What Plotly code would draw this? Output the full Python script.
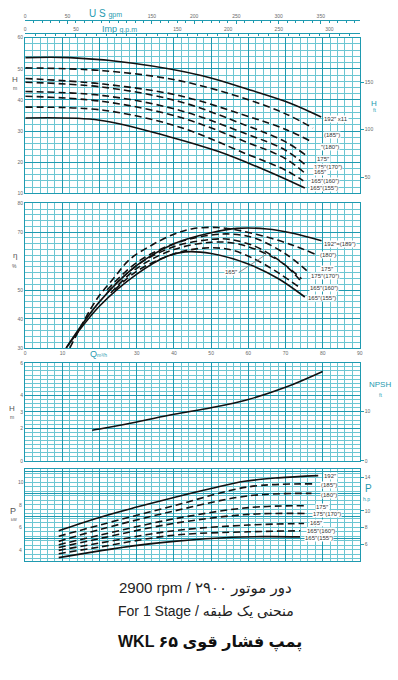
import plotly.graph_objects as go

W, H = 398, 680

# ---------------- data ----------------
# Panel 1: head H [m] vs Q [m3/h]
head_q = {
    "192": [0, 12, 29, 47.6, 61, 71.6, 79.6],
    "185": [0, 21, 41.4, 59.2, 69.9, 77.4],
    "180": [0, 21, 41.4, 59.2, 69.9, 77.0],
    "175": [0, 21, 41.4, 59.2, 69.9, 76.0],
    "175_170": [0, 21, 41.4, 59.2, 69.9, 75.6],
    "165": [0, 21, 41.4, 59.2, 69.9, 75.2],
    "165_160": [0, 21, 41.4, 59.2, 69.9, 74.8],
    "165_155": [0, 20, 38.7, 52, 65.4, 75.2],
}
head_h = {
    "192": [53.6, 53.6, 51.8, 47.8, 43.0, 38.8, 34.5],
    "185": [50.3, 49.4, 46.2, 40.4, 35.6, 31.0],
    "180": [46.9, 45.1, 41.4, 35.0, 30.6, 26.6],
    "175": [45.7, 44.1, 39.5, 31.9, 26.6, 21.8],
    "175_170": [42.7, 41.4, 36.7, 29.2, 23.9, 18.9],
    "165": [41.2, 39.5, 34.5, 26.6, 21.2, 16.5],
    "165_160": [37.7, 36.7, 31.3, 22.8, 17.5, 14.0],
    "165_155": [34.2, 33.5, 28.2, 23.4, 17.0, 11.7],
}
head_labels = {
    "192": "192\u2033 x11", "185": "(185\u2033)", "180": "\u2033(180\u2033)",
    "175": "175\u2033", "175_170": "175\u2033(170\u2033)", "165": "165\u2033",
    "165_160": "165\u2033(160\u2033)", "165_155": "165\u2033(155\u2033)",
}
head_label_pos = {  # (Q, H) of label left edge
    "192": (80.2, 34.0), "185": (80.2, 28.8), "180": (79.4, 25.0),
    "175": (78.3, 21.1), "175_170": (77.5, 18.3), "165": (77.5, 16.8),
    "165_160": (76.7, 13.8), "165_155": (76.2, 11.7),
}
solid_keys = {"192", "165_155"}

# Panel 2: efficiency [%]
eff_q = {
    "192": [11, 20, 30, 40, 50, 57, 65, 72, 79.7],
    "180": [12, 19, 24, 28, 34, 40, 45, 52, 57.5, 65, 72, 77.9],
    "175": [22, 30, 40, 50, 56, 62, 70, 75.7],
    "175_170": [22, 30, 40, 50, 55, 62, 68, 74.3],
    "165": [23, 30, 40, 50, 57, 65, 70, 74.5],
    "165_160": [24, 30, 40, 48, 55, 62, 68, 73.9],
    "165_155": [11, 20, 30, 38, 43, 50, 60, 68, 75.2],
}
eff_e = {
    "192": [30, 46, 58.5, 66, 69.8, 71.3, 71.1, 69.6, 67],
    "180": [30, 46.4, 54.4, 60.5, 65.5, 69.3, 71.2, 71.6, 70.6, 68.3, 65.5, 62.4],
    "175": [50, 59.5, 66, 69, 69.3, 67.8, 62.5, 56.7],
    "175_170": [49, 58.5, 65, 67.5, 67.5, 65, 60.5, 53.9],
    "165": [49, 57.5, 64, 66.5, 66, 62.4, 58.5, 52.5],
    "165_160": [50, 56.5, 62.5, 64.5, 64, 60.5, 56, 50.8],
    "165_155": [30, 44.5, 55.5, 61.6, 63.2, 62.6, 59, 54, 47.6],
}
eff_labels = {
    "192": "192\u2033=(189\u2033)", "180": "(180\u2033)", "175": "175\u2033",
    "175_170": "175\u2033(170\u2033)", "165_160": "165\u2033(160\u2033)",
    "165_155": "165\u2033(155\u2033)",
}
eff_label_pos = {
    "192": (80.2, 65.9), "180": (78.9, 62.2), "175": (79.4, 57.1),
    "175_170": (76.7, 55.0), "165_160": (76.2, 50.8), "165_155": (75.7, 47.4),
}

# Panel 3: NPSH [m]
npsh_q = [18, 20, 30, 40, 50, 60, 70, 80]
npsh_h = [1.88, 1.95, 2.38, 2.85, 3.25, 3.76, 4.5, 5.47]

# Panel 4: power [kW]
pow_q = {
    "192": [9, 20, 30, 40, 50, 59, 68, 78.8],
    "185": [9, 20, 40, 60, 77.4],
    "180": [9, 20, 40, 60, 77.0],
    "175": [9, 20, 40, 60, 75.6],
    "175_170": [9, 20, 40, 60, 75.3],
    "165": [9, 20, 40, 60, 75.0],
    "165_160": [9, 20, 40, 60, 74.0],
    "165_155": [9, 20, 29, 40, 55.6, 65, 73.9],
}
pow_p = {
    "192": [5.7, 6.88, 7.8, 8.66, 9.45, 10.09, 10.4, 10.6],
    "185": [5.2, 6.2, 7.92, 9.6, 9.86],
    "180": [4.75, 5.8, 7.45, 8.8, 9.02],
    "175": [4.45, 5.3, 6.75, 7.75, 7.92],
    "175_170": [4.2, 5.0, 6.35, 7.15, 7.23],
    "165": [3.95, 4.6, 5.7, 6.2, 6.34],
    "165_160": [3.65, 4.25, 5.3, 5.6, 5.69],
    "165_155": [3.3, 3.9, 4.35, 4.75, 5.12, 5.17, 5.15],
}
pow_labels = {
    "192": "192\u2033", "185": "(185\u2033)", "180": "(180\u2033)", "175": "175\u2033",
    "175_170": "175\u2033(170\u2033)", "165": "165\u2033",
    "165_160": "165\u2033(160\u2033)", "165_155": "165\u2033(155\u2033)",
}
pow_label_pos = {
    "192": (80.2, 10.6), "185": (79.4, 9.8), "180": (79.4, 8.9),
    "175": (78.0, 7.77), "175_170": (77.1, 7.18), "165": (76.2, 6.34),
    "165_160": (75.4, 5.69), "165_155": (74.9, 5.09),
}

q_range = [0, 90]
us_gpm_ticks = [0, 50, 150, 200, 250, 300, 350]
imp_gpm_ticks = [0, 50, 150, 200, 250, 300]
kw_ticks = [4, 6, 8, 10]

# ---------------- styling ----------------
TEAL = "#1f9ab0"
TEAL_MINOR = "#6cc6d2"
TICKFONT = dict(size=5, color="#6a6a6a", family="Liberation Sans, Arial, sans-serif")
FONT = "Liberation Sans, Arial, DejaVu Sans, sans-serif"


def px(x):
    return x / W


def py(y):
    return 1 - y / H


x_dom = [px(24.5), px(362.5)]
y_doms = {
    1: [py(192), py(35)],
    2: [py(348), py(202)],
    3: [py(462), py(363)],
    4: [py(563), py(470)],
}

fig = go.Figure()


def line_style(k):
    if k in solid_keys:
        return dict(color="#111", width=1.6)
    return dict(color="#111", width=1.6, dash="7px,4px")


for k in head_q:
    fig.add_trace(go.Scatter(x=head_q[k], y=head_h[k], mode="lines", line_shape="spline",
                             line=line_style(k), xaxis="x", yaxis="y", showlegend=False,
                             hoverinfo="skip"))
for k in eff_q:
    fig.add_trace(go.Scatter(x=eff_q[k], y=eff_e[k], mode="lines", line_shape="spline",
                             line=line_style(k), xaxis="x2", yaxis="y2", showlegend=False,
                             hoverinfo="skip"))
fig.add_trace(go.Scatter(x=npsh_q, y=npsh_h, mode="lines", line_shape="spline",
                         line=dict(color="#111", width=1.6), xaxis="x3", yaxis="y3",
                         showlegend=False, hoverinfo="skip"))
for k in pow_q:
    fig.add_trace(go.Scatter(x=pow_q[k], y=pow_p[k], mode="lines", line_shape="spline",
                             line=line_style(k), xaxis="x4", yaxis="y4", showlegend=False,
                             hoverinfo="skip"))
# dummy traces for secondary axes
for xa, ya in [("x5", "y"), ("x6", "y"), ("x", "y5"), ("x3", "y6"), ("x4", "y7")]:
    fig.add_trace(go.Scatter(x=[None], y=[None], xaxis=xa, yaxis=ya, showlegend=False,
                             hoverinfo="skip"))


def xgrid(anchor, showlabels=False, tickvals=None):
    d = dict(domain=x_dom, range=q_range, anchor=anchor, showgrid=True, gridcolor=TEAL,
             gridwidth=1.3, dtick=10, tick0=0, showline=True, linecolor=TEAL, linewidth=1.3,
             mirror=True, zeroline=False, ticks="", tickfont=TICKFONT,
             showticklabels=showlabels,
             minor=dict(dtick=2, tick0=0, showgrid=True, gridcolor=TEAL_MINOR, gridwidth=0.7))
    if tickvals is not None:
        d["tickvals"] = tickvals
        d.pop("dtick")
    return d


def ygrid(anchor, rng, dtick, minor_dtick, dom, tickvals=None, showlabels=True, mtick0=0):
    d = dict(domain=dom, range=rng, anchor=anchor, showgrid=True, gridcolor=TEAL,
             gridwidth=1.3, tick0=0, showline=True, linecolor=TEAL, linewidth=1.3,
             mirror=True, zeroline=False, ticks="", tickfont=TICKFONT,
             showticklabels=showlabels,
             minor=dict(dtick=minor_dtick, tick0=mtick0, showgrid=True, gridcolor=TEAL_MINOR,
                        gridwidth=0.7))
    if tickvals is not None:
        d["tickvals"] = tickvals
    else:
        d["dtick"] = dtick
    return d


ya1 = ygrid("x", [10, 60], 10, 2, y_doms[1])
ya2 = ygrid("x2", [30, 80], 10, 2, y_doms[2], tickvals=[30, 40, 50, 70, 80], mtick0=30)
ya3 = ygrid("x3", [0, 6], 1, 0.25, y_doms[3], tickvals=[0, 2, 3, 4, 6])
ya4 = ygrid("x4", [3, 11.2], 2, 0.4, y_doms[4], tickvals=[3, 5, 7, 9, 11], showlabels=False)

xa2 = xgrid("y2", showlabels=True, tickvals=[0, 10, 30, 40, 50, 60, 70, 80, 90])
xa2["side"] = "bottom"

fig.update_layout(
    width=W, height=H, margin=dict(l=0, r=0, t=0, b=0),
    paper_bgcolor="white", plot_bgcolor="white",
    xaxis=xgrid("y"), xaxis2=xa2, xaxis3=xgrid("y3"), xaxis4=xgrid("y4"),
    yaxis=ya1, yaxis2=ya2, yaxis3=ya3, yaxis4=ya4,
    xaxis5=dict(overlaying="x", side="top", anchor="free", position=py(17),
                range=[0, 90 * 4.4029], tickvals=us_gpm_ticks, showgrid=False,
                showline=True, linecolor=TEAL, linewidth=1, ticks="inside", ticklen=3,
                tickcolor=TEAL, tickfont=TICKFONT, zeroline=False,
                minor=dict(dtick=10, ticks="inside", ticklen=2, tickcolor=TEAL)),
    xaxis6=dict(overlaying="x", side="top", anchor="free", position=py(30),
                range=[0, 90 * 3.6661], tickvals=imp_gpm_ticks, showgrid=False,
                showline=True, linecolor=TEAL, linewidth=1, ticks="inside", ticklen=3,
                tickcolor=TEAL, tickfont=TICKFONT, zeroline=False,
                minor=dict(dtick=10, ticks="inside", ticklen=2, tickcolor=TEAL)),
    yaxis5=dict(overlaying="y", side="right", anchor="x", range=[10 / 0.3048, 60 / 0.3048],
                tickvals=[50, 100, 150], showgrid=False, zeroline=False, ticks="outside",
                ticklen=3, tickcolor=TEAL, tickfont=TICKFONT),
    yaxis6=dict(overlaying="y3", side="right", anchor="x3", range=[0, 6 / 0.3048],
                tickvals=[0, 10], showgrid=False, zeroline=False, ticks="outside",
                ticklen=3, tickcolor=TEAL, tickfont=TICKFONT),
    yaxis7=dict(overlaying="y4", side="right", anchor="x4",
                range=[3 / 0.7457, 11.2 / 0.7457], tickvals=[6, 8, 10, 14], showgrid=False,
                zeroline=False, ticks="outside", ticklen=3, tickcolor=TEAL, tickfont=TICKFONT),
    font=dict(family=FONT),
)

ann = []


def add_label(text, x, y, xr, yr, size=6):
    ann.append(dict(text=text, x=x, y=y, xref=xr, yref=yr, xanchor="left", yanchor="middle",
                    showarrow=False, bgcolor="white", borderpad=0,
                    font=dict(size=size, color="#333", family=FONT)))


for k, (qx, hy) in head_label_pos.items():
    add_label(head_labels[k], qx, hy, "x", "y")
for k, (qx, ey) in eff_label_pos.items():
    add_label(eff_labels[k], qx, ey, "x2", "y2")
ann.append(dict(text="165\u2033", x=64.9, y=62.4, xref="x2", yref="y2", ax=57.5, ay=56.1,
                axref="x2", ayref="y2", showarrow=True, arrowhead=0, arrowwidth=0.8,
                arrowcolor="#777", bgcolor="white", borderpad=0, xanchor="right",
                font=dict(size=6, color="#333", family=FONT)))
for k, (qx, pp) in pow_label_pos.items():
    add_label(pow_labels[k], qx, pp, "x4", "y4")

# panel-4 left tick labels (kW)
for v in kw_ticks:
    ann.append(dict(text=str(v), x=px(20), y=v, xref="paper", yref="y4", showarrow=False,
                    xanchor="center", yanchor="middle", font=TICKFONT))


def ptext(text, x, y, size, color="#444", bold=False, anchor="center"):
    if bold:
        text = "<b>" + text + "</b>"
    ann.append(dict(text=text, x=px(x), y=py(y), xref="paper", yref="paper", showarrow=False,
                    xanchor=anchor, yanchor="middle",
                    font=dict(size=size, color=color, family=FONT)))


# axis titles
ptext("U S <span style='font-size:7px'>gpm</span>", 106, 11, 10, TEAL)
ptext("Imp <span style='font-size:7px'>g.p.m</span>", 120, 26, 9, TEAL)
ptext("H", 14, 77, 8, "#555")
ptext("m", 14, 86, 5, "#555")
ptext("H", 377, 101, 8, TEAL)
ptext("ft", 377, 108, 5, TEAL)
ptext("\u03b7", 14, 255, 8, "#555")
ptext("%", 14, 265, 5, "#555")
ptext("Q<span style='font-size:5px'>m\u00b3/h</span>", 98, 354, 9, TEAL)
ptext("H", 11, 409, 8, "#555")
ptext("m", 11, 418, 5, "#555")
ptext("NPSH", 383, 385, 8, TEAL)
ptext("ft", 383, 395, 5, TEAL)
ptext("P", 12, 513, 9, "#555")
ptext("kW", 13, 521, 4, "#555")
ptext("P", 371, 490, 10, TEAL)
ptext("h.p", 369, 500, 5, TEAL)

# bottom texts
ptext("2900 rpm / دور موتور ۲۹۰۰", 207, 590, 15, "#222")
ptext("For 1 Stage / منحنی یک طبقه", 207, 613, 14, "#222")
ptext("WKL پمپ فشار قوی ۶۵", 211, 645, 16, "#111", bold=True)

fig.update_layout(annotations=ann)

fig.write_html("out.html")
